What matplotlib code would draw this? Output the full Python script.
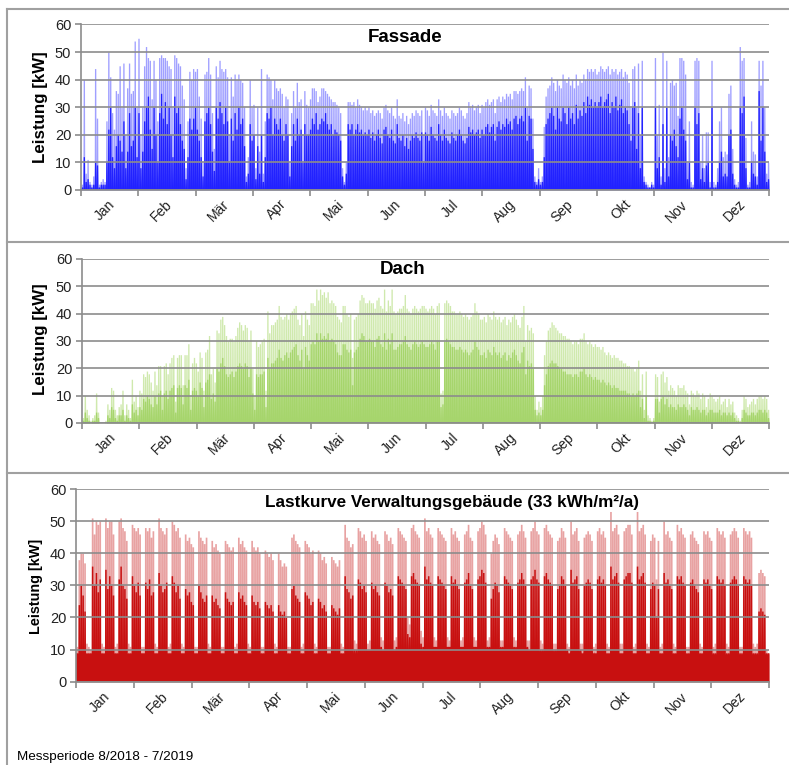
import numpy as np
import matplotlib
matplotlib.use('Agg')
import matplotlib.pyplot as plt
from matplotlib.lines import Line2D

plt.rcParams['font.family'] = ['Liberation Sans', 'DejaVu Sans']

W, H = 789, 765

months = ['Jan', 'Feb', 'Mär', 'Apr', 'Mai', 'Jun',
          'Jul', 'Aug', 'Sep', 'Okt', 'Nov', 'Dez']

# daily peak / dense level in kW (365 days)
fassade_peak = [
    2, 40, 6, 11, 3, 2, 5, 44, 26, 2, 3, 4, 3, 25, 50, 41, 28, 22, 36, 35, 45, 30, 46, 20, 37, 46, 35, 36, 54, 30, 55,
    20, 30, 45, 52, 48, 47, 33, 47, 40, 25, 48, 49, 48, 48, 47, 45, 44, 30, 49, 48, 46, 45, 38, 33, 8, 25, 43, 40,
    44, 43, 44, 34, 26, 10, 42, 43, 48, 42, 28, 15, 45, 41, 47, 44, 43, 44, 41, 20, 41, 34, 42, 40, 42, 40, 39, 30, 5, 12, 40,
    30, 31, 8, 30, 14, 44, 6, 25, 42, 41, 40, 33, 40, 37, 36, 37, 35, 30, 34, 33, 10, 28, 36, 30, 39, 32, 33, 20, 36, 31,
    30, 33, 37, 37, 36, 32, 34, 37, 37, 36, 35, 34, 33, 32, 32, 31, 30, 28, 8, 3, 10, 32, 32, 31, 32, 30, 33, 31, 30, 29, 30,
    29, 30, 28, 29, 27, 28, 29, 28, 26, 30, 31, 29, 28, 30, 27, 26, 33, 27, 26, 28, 25, 27, 24, 26, 28, 27, 29, 28, 27, 29,
    20, 30, 29, 27, 31, 29, 28, 27, 33, 29, 27, 30, 28, 27, 26, 29, 28, 27, 28, 30, 29, 27, 26, 28, 32, 30, 31, 29, 30, 31, 28,
    31, 30, 32, 33, 31, 32, 33, 28, 33, 34, 32, 34, 33, 35, 34, 35, 33, 36, 36, 35, 36, 37, 36, 41, 30, 38, 37, 26, 5, 3, 8,
    3, 5, 23, 34, 37, 38, 41, 39, 36, 40, 38, 37, 42, 40, 39, 41, 38, 40, 37, 42, 38, 40, 39, 42, 40, 44, 43, 44, 43, 44,
    42, 43, 45, 44, 43, 44, 45, 42, 44, 43, 44, 42, 43, 44, 41, 43, 42, 39, 30, 44, 45, 30, 46, 20, 47, 5, 3, 2, 1, 3, 2,
    48, 20, 31, 5, 50, 8, 47, 12, 39, 40, 38, 39, 27, 48, 48, 47, 42, 10, 25, 3, 2, 47, 48, 47, 10, 20, 8, 21, 21, 3,
    47, 3, 2, 8, 25, 30, 12, 14, 13, 35, 38, 15, 4, 2, 3, 52, 47, 48, 19, 2, 3, 25, 14, 13, 5, 47, 38, 47, 30, 6, 10,
]
fassade_core = [
    1, 12, 3, 4, 2, 1, 2, 10, 9, 1, 2, 2, 2, 10, 22, 30, 12, 8, 16, 20, 18, 14, 25, 8, 14, 28, 16, 18, 30, 12, 28,
    8, 14, 25, 30, 34, 22, 15, 30, 20, 10, 28, 35, 26, 32, 24, 30, 20, 12, 34, 28, 30, 24, 18, 15, 4, 12, 26, 22,
    26, 30, 22, 18, 12, 5, 25, 28, 30, 24, 14, 7, 30, 26, 32, 28, 24, 30, 25, 10, 26, 18, 28, 22, 30, 24, 26, 16, 3, 6, 24,
    18, 20, 4, 16, 6, 20, 3, 12, 28, 26, 30, 20, 26, 24, 22, 26, 20, 18, 24, 20, 5, 16, 24, 18, 26, 20, 22, 10, 24, 20,
    20, 22, 26, 24, 28, 22, 24, 26, 25, 28, 24, 22, 24, 20, 22, 21, 20, 18, 5, 2, 6, 24, 22, 24, 20, 22, 24, 21, 22, 20, 21,
    20, 22, 19, 21, 18, 20, 22, 19, 17, 22, 23, 20, 19, 22, 18, 17, 24, 19, 18, 20, 16, 19, 15, 18, 20, 19, 21, 19, 18, 21,
    10, 21, 20, 18, 23, 20, 19, 18, 24, 20, 18, 22, 19, 18, 17, 21, 19, 18, 20, 22, 20, 18, 17, 19, 23, 21, 22, 20, 21, 22, 19,
    22, 20, 23, 24, 21, 23, 24, 18, 23, 25, 22, 24, 23, 26, 24, 25, 22, 26, 27, 24, 26, 27, 25, 30, 18, 27, 26, 15, 3, 2, 4,
    2, 3, 12, 24, 26, 28, 30, 27, 22, 30, 26, 25, 30, 28, 24, 30, 26, 28, 24, 31, 26, 29, 27, 32, 28, 34, 31, 33, 30, 32,
    30, 32, 34, 30, 32, 33, 35, 28, 32, 30, 34, 29, 31, 33, 28, 30, 29, 24, 18, 30, 32, 15, 28, 8, 30, 3, 2, 1, 1, 2, 1,
    30, 8, 12, 2, 24, 3, 30, 5, 20, 18, 22, 16, 12, 26, 30, 22, 18, 4, 10, 1, 1, 30, 24, 28, 4, 8, 3, 9, 10, 1,
    30, 1, 1, 3, 10, 14, 5, 6, 5, 20, 22, 6, 2, 1, 1, 30, 28, 34, 8, 1, 1, 10, 6, 5, 2, 36, 18, 30, 14, 3, 4,
]

dach_peak = [
    2, 10, 5, 3, 1, 2, 3, 11, 4, 0, 0, 0, 1, 7, 5, 13, 12, 5, 3, 6, 7, 12, 3, 7, 5, 2, 16, 8, 10, 6, 12,
    11, 18, 17, 19, 18, 15, 12, 19, 14, 21, 21, 10, 21, 22, 18, 22, 24, 25, 8, 24, 25, 25, 14, 25, 25, 29, 10, 22,
    24, 22, 19, 26, 24, 12, 26, 27, 32, 18, 20, 15, 34, 33, 38, 39, 36, 32, 30, 31, 31, 30, 32, 35, 37, 36, 34, 36, 35, 30, 34,
    20, 10, 30, 28, 29, 30, 31, 12, 41, 33, 36, 36, 37, 38, 43, 39, 38, 39, 40, 38, 40, 41, 42, 43, 38, 36, 40, 32, 41, 38,
    36, 44, 44, 43, 49, 45, 49, 47, 48, 46, 48, 44, 45, 44, 43, 39, 38, 37, 43, 43, 40, 39, 40, 24, 38, 39, 40, 45, 47, 46, 44,
    44, 45, 44, 44, 42, 45, 46, 43, 42, 49, 41, 45, 43, 49, 41, 40, 41, 42, 42, 43, 47, 42, 41, 40, 42, 43, 42, 41, 42, 43,
    43, 42, 41, 42, 43, 42, 40, 43, 44, 11, 12, 44, 45, 44, 43, 41, 41, 40, 40, 41, 40, 39, 40, 39, 38, 39, 40, 44, 41, 40, 38,
    38, 39, 37, 40, 39, 38, 41, 39, 38, 39, 37, 38, 39, 36, 38, 37, 39, 40, 38, 36, 35, 39, 43, 30, 36, 34, 35, 33, 10, 5, 8,
    6, 10, 25, 30, 34, 35, 37, 36, 35, 34, 33, 33, 32, 32, 31, 31, 30, 29, 30, 30, 29, 31, 31, 33, 30, 29, 30, 29, 28, 29,
    28, 28, 27, 28, 26, 25, 26, 25, 24, 25, 24, 24, 23, 23, 22, 22, 21, 21, 20, 20, 19, 20, 23, 12, 18, 5, 19, 3, 2, 1, 2,
    18, 17, 8, 18, 19, 15, 17, 12, 14, 13, 12, 10, 14, 13, 13, 14, 12, 11, 7, 12, 11, 10, 12, 11, 9, 11, 10, 6, 9, 11,
    10, 9, 8, 9, 10, 7, 8, 9, 6, 9, 7, 8, 4, 3, 2, 1, 5, 10, 9, 6, 7, 8, 9, 7, 9, 10, 10, 9, 10, 9, 5,
]
dach_core = [
    1, 4, 2, 1, 0, 1, 1, 4, 2, 0, 0, 0, 0, 3, 2, 6, 5, 2, 1, 3, 3, 5, 1, 3, 2, 1, 7, 4, 5, 3, 6,
    5, 9, 8, 10, 9, 7, 6, 10, 7, 11, 12, 5, 11, 12, 9, 12, 13, 14, 4, 13, 14, 13, 7, 14, 13, 16, 5, 12,
    13, 12, 10, 15, 13, 6, 15, 16, 18, 9, 11, 8, 20, 19, 22, 24, 21, 18, 17, 18, 19, 17, 19, 21, 22, 21, 20, 22, 21, 17, 20,
    11, 5, 18, 17, 18, 18, 19, 6, 24, 20, 22, 22, 23, 24, 27, 24, 23, 25, 26, 24, 26, 27, 28, 29, 25, 23, 27, 20, 28, 25,
    23, 29, 30, 29, 33, 30, 33, 31, 32, 31, 33, 30, 31, 30, 29, 26, 25, 25, 29, 29, 27, 26, 27, 14, 26, 27, 28, 31, 33, 32, 30,
    30, 31, 30, 30, 28, 31, 32, 29, 28, 33, 27, 31, 29, 33, 27, 27, 28, 29, 29, 30, 32, 29, 28, 27, 29, 30, 29, 28, 29, 30,
    29, 28, 28, 29, 30, 29, 27, 30, 30, 6, 7, 30, 31, 30, 29, 28, 28, 27, 27, 28, 27, 26, 27, 26, 25, 26, 27, 30, 28, 27, 25,
    25, 26, 24, 27, 26, 25, 28, 26, 25, 26, 24, 25, 26, 23, 25, 24, 26, 27, 25, 23, 22, 26, 28, 18, 23, 21, 22, 20, 5, 3, 4,
    3, 5, 14, 18, 21, 22, 23, 22, 22, 21, 20, 20, 19, 19, 18, 18, 18, 17, 18, 18, 17, 19, 19, 20, 18, 17, 18, 17, 16, 17,
    16, 16, 15, 16, 15, 14, 15, 14, 13, 14, 13, 13, 12, 12, 12, 12, 11, 11, 10, 11, 10, 11, 12, 6, 9, 2, 10, 1, 1, 0, 1,
    9, 9, 4, 9, 10, 7, 9, 6, 7, 6, 6, 5, 7, 6, 6, 7, 6, 5, 3, 6, 5, 5, 6, 5, 4, 5, 5, 3, 4, 5,
    5, 4, 4, 4, 5, 3, 4, 4, 3, 4, 3, 4, 2, 1, 1, 0, 2, 5, 4, 3, 3, 4, 4, 3, 4, 5, 5, 4, 5, 4, 2,
]

# load curve: one line per week (Mo-Fr, Sa, So), first value is day 0
last_peak = [
    11,
    38, 40, 40, 37, 12, 11, 10,
    51, 46, 50, 49, 50, 12, 11,
    51, 48, 50, 50, 46, 11, 12,
    50, 51, 48, 47, 44, 12, 11,
    49, 48, 47, 48, 46, 11, 11,
    48, 47, 48, 45, 47, 12, 11,
    51, 48, 47, 46, 48, 11, 12,
    50, 49, 47, 48, 45, 12, 11,
    46, 44, 45, 43, 42, 11, 11,
    47, 45, 44, 43, 45, 12, 11,
    44, 42, 43, 41, 40, 11, 11,
    44, 43, 42, 41, 42, 11, 12,
    45, 43, 44, 42, 41, 12, 11,
    44, 42, 41, 42, 40, 11, 11,
    41, 40, 39, 40, 38, 12, 11,
    40, 38, 36, 37, 36, 11, 11,
    45, 46, 44, 43, 42, 11, 12,
    44, 43, 42, 40, 41, 12, 11,
    41, 40, 38, 39, 37, 11, 11,
    39, 38, 37, 36, 38, 12, 11,
    49, 45, 44, 42, 43, 13, 12,
    48, 47, 45, 46, 44, 12, 13,
    47, 45, 46, 44, 43, 14, 13,
    47, 46, 44, 45, 43, 13, 14,
    48, 47, 46, 45, 44, 20, 18,
    48, 49, 47, 46, 45, 16, 14,
    51, 47, 48, 46, 45, 14, 13,
    48, 47, 46, 45, 44, 14, 13,
    48, 46, 47, 45, 44, 13, 14,
    46, 47, 49, 45, 44, 14, 13,
    47, 48, 50, 49, 46, 13, 14,
    40, 44, 46, 45, 43, 13, 13,
    48, 47, 46, 45, 44, 14, 13,
    46, 47, 49, 47, 45, 13, 13,
    47, 48, 50, 47, 46, 13, 12,
    48, 49, 47, 46, 45, 12, 12,
    44, 45, 48, 47, 45, 12, 11,
    50, 46, 47, 48, 44, 12, 12,
    45, 46, 47, 46, 44, 11, 12,
    47, 48, 46, 47, 45, 12, 11,
    53, 47, 48, 49, 46, 12, 12,
    47, 48, 49, 49, 46, 11, 12,
    53, 47, 48, 49, 46, 12, 11,
    44, 46, 45, 32, 44, 11, 12,
    50, 46, 47, 45, 44, 12, 11,
    49, 47, 48, 46, 45, 11, 11,
    46, 47, 45, 44, 43, 12, 11,
    47, 46, 47, 45, 44, 11, 12,
    48, 47, 46, 47, 45, 12, 11,
    46, 47, 48, 47, 45, 11, 11,
    48, 47, 46, 47, 45, 12, 11,
    12, 34, 35, 34, 33, 10, 9,
]
last_core = [
    9,
    24, 30, 27, 22, 9, 9, 9,
    36, 30, 34, 28, 32, 9, 9,
    35, 29, 33, 30, 27, 9, 9,
    32, 36, 30, 29, 26, 9, 9,
    33, 30, 28, 31, 27, 9, 9,
    31, 29, 32, 27, 28, 9, 9,
    34, 30, 28, 29, 31, 9, 9,
    33, 31, 28, 30, 26, 9, 9,
    29, 27, 28, 25, 24, 9, 9,
    30, 28, 26, 25, 27, 9, 9,
    27, 25, 26, 24, 23, 9, 9,
    28, 26, 25, 24, 25, 9, 9,
    28, 26, 27, 25, 24, 9, 9,
    27, 25, 24, 25, 23, 9, 9,
    25, 24, 23, 24, 22, 9, 9,
    24, 22, 21, 22, 20, 9, 9,
    29, 30, 27, 26, 25, 9, 9,
    28, 27, 26, 24, 25, 9, 9,
    26, 25, 23, 24, 22, 9, 9,
    24, 23, 22, 21, 23, 9, 9,
    33, 29, 28, 26, 27, 10, 10,
    32, 31, 29, 30, 28, 10, 10,
    31, 29, 30, 28, 27, 11, 10,
    31, 30, 28, 29, 27, 10, 11,
    33, 32, 31, 30, 29, 15, 14,
    33, 34, 32, 31, 30, 12, 11,
    36, 32, 33, 31, 30, 11, 11,
    33, 32, 31, 30, 29, 11, 11,
    33, 31, 32, 30, 29, 11, 11,
    31, 32, 34, 30, 29, 11, 11,
    32, 33, 35, 34, 31, 11, 11,
    26, 29, 31, 30, 28, 11, 11,
    33, 32, 31, 30, 29, 11, 11,
    31, 32, 34, 32, 30, 11, 10,
    32, 33, 35, 32, 31, 10, 10,
    33, 34, 32, 31, 30, 10, 10,
    29, 30, 33, 32, 30, 10, 9,
    35, 31, 32, 33, 29, 10, 9,
    30, 31, 32, 31, 29, 9, 9,
    32, 33, 31, 32, 30, 9, 9,
    36, 32, 33, 34, 31, 9, 9,
    32, 33, 34, 34, 31, 9, 9,
    36, 32, 33, 34, 31, 9, 9,
    29, 31, 30, 20, 29, 9, 9,
    34, 31, 32, 30, 29, 9, 9,
    33, 32, 33, 31, 30, 9, 9,
    31, 32, 30, 29, 28, 9, 9,
    32, 31, 32, 30, 29, 9, 9,
    33, 32, 31, 32, 30, 9, 9,
    31, 32, 33, 32, 30, 9, 9,
    33, 32, 31, 32, 30, 9, 9,
    9, 22, 23, 22, 21, 9, 9,
]
# night / weekend base load per month
last_base = [8.8, 9.0, 9.0, 8.8, 8.8, 10.0, 11.0, 10.5, 9.5, 9.0, 8.8, 8.5]

GRID = '#8c8c8c'
edges = np.linspace(0, 365, 13)


def fx(px):
    return px / W


def fy(px):
    return 1 - px / H


def spikes(ax, tops, valley, color, ramp=0.15):
    # one flat-topped spike per day, back to the valley at midnight
    n = len(tops)
    start = np.arange(n)
    xs = np.empty(3 * n + 1)
    xs[0:-1:3] = start
    xs[1::3] = start + ramp
    xs[2::3] = start + 1 - ramp
    xs[-1] = n
    ys = np.empty_like(xs)
    ys[0::3] = valley
    ys[1::3] = tops
    ys[2::3] = tops
    ax.fill_between(xs, 0, ys, color=color, linewidth=0)


def style_axis(ax):
    ax.set_xlim(0, 365)
    ax.set_ylim(0, 60)
    ax.set_yticks(range(0, 61, 10))
    ax.yaxis.grid(True, color=GRID, lw=1.2)
    ax.set_axisbelow(False)
    for s in ['top', 'right']:
        ax.spines[s].set_visible(False)
    for s in ['left', 'bottom']:
        ax.spines[s].set_color(GRID)
        ax.spines[s].set_linewidth(1.2)
    ax.set_xticks(edges)
    ax.set_xticklabels([])
    ax.set_xticks((edges[:-1] + edges[1:]) / 2 + 1.5, minor=True)
    ax.set_xticklabels(months, minor=True, rotation=45, ha='right',
                       va='center', rotation_mode='anchor', fontsize=10, color='#222222')
    ax.tick_params(axis='x', which='major', length=4, color=GRID, width=1.2)
    ax.tick_params(axis='x', which='minor', length=0, pad=9)
    ax.tick_params(axis='y', length=4, color=GRID, width=1.2, labelsize=10.5,
                   labelcolor='#222222', pad=3)


fig = plt.figure(figsize=(W / 100, H / 100), dpi=100)

# panel 1: Fassade
ax1 = fig.add_axes([fx(81), fy(189.7), 688 / W, 165.2 / H])
spikes(ax1, fassade_peak, 0, '#a0a0ff')
spikes(ax1, fassade_core, 0, '#2222ff')
style_axis(ax1)

# panel 2: Dach
ax2 = fig.add_axes([fx(82), fy(423), 687 / W, 164 / H])
spikes(ax2, dach_peak, 0, '#cfe9ad')
spikes(ax2, dach_core, 0, '#a6d56c')
style_axis(ax2)

# panel 3: load curve
ax3 = fig.add_axes([fx(76), fy(681.7), 693 / W, 192.7 / H])
night = np.array(last_base)[np.minimum(np.arange(366) * 12 // 365, 11)]
ax3.stairs(last_base, edges, fill=True, color='#c00000', linewidth=0)
spikes(ax3, last_peak, night, '#e8a2a2', ramp=0.06)
spikes(ax3, last_core, night, '#c81010', ramp=0.1)
style_axis(ax3)

# axis titles
fig.text(fx(40), fy(107), 'Leistung [kW]', rotation=90, ha='center', va='center',
         fontsize=12.2, fontweight='bold')
fig.text(fx(41), fy(339), 'Leistung [kW]', rotation=90, ha='center', va='center',
         fontsize=12.2, fontweight='bold')
fig.text(fx(36), fy(586), 'Leistung [kW]', rotation=90, ha='center', va='center',
         fontsize=10.4, fontweight='bold')

fig.text(fx(405), fy(38), 'Fassade', ha='center', va='center', fontsize=13.5, fontweight='bold')
fig.text(fx(403), fy(269), 'Dach', ha='center', va='center', fontsize=13.5, fontweight='bold')
fig.text(fx(452), fy(503), 'Lastkurve Verwaltungsgebäude (33 kWh/m²/a)', ha='center',
         va='center', fontsize=12.3, fontweight='bold')
fig.text(fx(17), fy(757), 'Messperiode 8/2018 - 7/2019', ha='left', va='center', fontsize=9.7)

# panel frames
frame = dict(color='#a0a0a0', lw=1.5, transform=fig.transFigure)
fig.add_artist(Line2D([fx(7), fx(7)], [fy(9), 0], **frame))
for y in [9, 242, 473]:
    fig.add_artist(Line2D([fx(7), 1], [fy(y), fy(y)], **frame))

fig.savefig('out.png', dpi=100)
